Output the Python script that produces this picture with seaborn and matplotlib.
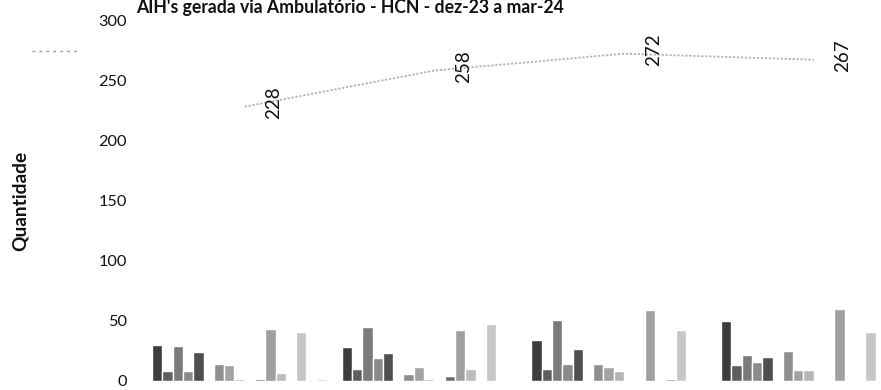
import numpy as np
import pandas as pd
import matplotlib
matplotlib.use("Agg")
import matplotlib.pyplot as plt
import seaborn as sns
from matplotlib.lines import Line2D

# ---- data -------------------------------------------------------------
meses = ["dez-23", "jan-24", "fev-24", "mar-24"]
series = [f"Esp. {i + 1:02d}" for i in range(18)]
totais = [228, 258, 272, 267]

dez_23 = [30, 8, 29, 8, 24, 0, 14, 13, 2, 0, 2, 43, 7, 0, 41, 0, 2, 0]
jan_24 = [28, 10, 45, 19, 23, 0, 6, 12, 2, 1, 4, 42, 10, 1, 47, 0, 1, 0]
fev_24 = [34, 10, 51, 14, 27, 1, 14, 12, 8, 1, 0, 59, 1, 2, 42, 0, 1, 0]
mar_24 = [50, 13, 22, 16, 20, 0, 25, 9, 9, 0, 0, 60, 1, 1, 41, 1, 8, 0]

titulo = "AIH's gerada via Ambulatório - HCN - dez-23 a mar-24"
rotulo_y = "Quantidade"

# ---- styling ----------------------------------------------------------
cores = ["#3d3d3d", "#5e5e5e", "#7a7a7a", "#8a8a8a", "#4f4f4f", "#d9d9d9",
         "#8f8f8f", "#a3a3a3", "#b5b5b5", "#c4c4c4", "#6e6e6e", "#a0a0a0",
         "#bdbdbd", "#9a9a9a", "#c6c6c6", "#d0d0d0", "#cfcfcf", "#dddddd"]

valores = {"dez-23": dez_23, "jan-24": jan_24, "fev-24": fev_24, "mar-24": mar_24}
linhas = []
for m in meses:
    for s, v in zip(series, valores[m]):
        linhas.append({"mes": m, "serie": s, "qtd": v})
df = pd.DataFrame(linhas)

sns.set_theme(style="white")
plt.rcParams["font.family"] = ["Lato", "DejaVu Sans"]

W, H = 881, 390
fig = plt.figure(figsize=(W / 100, H / 100), dpi=100)
ax_left, ax_right = 149.85, 908.6
ax_bottom, ax_top = 381.0, 20.0
ax = fig.add_axes([ax_left / W, (H - ax_bottom) / H,
                   (ax_right - ax_left) / W, (ax_bottom - ax_top) / H])

sns.barplot(data=df, x="mes", y="qtd", hue="serie", order=meses,
            hue_order=series, palette=cores, width=0.977, gap=0,
            saturation=1, legend=False, errorbar=None, ax=ax)

pos = np.arange(len(meses))
sns.lineplot(x=pos, y=totais, ax=ax, color="#b3b3b3", linewidth=1.3,
             linestyle=(0, (1.2, 1.0)))

for x, v in zip(pos, totais):
    ax.annotate(str(v), xy=(x, v), xytext=(21, 3), textcoords="offset points",
                rotation=90, ha="center", va="center", fontsize=13.5,
                color="#111111")

ax.set_xlim(-0.5, 3.5)
ax.set_ylim(0, 300)
ax.set_yticks(range(0, 301, 50))
ax.tick_params(axis="y", length=0, pad=16.6, labelsize=11.7, labelcolor="#111111")
ax.tick_params(axis="x", length=0, labelbottom=False)
ax.set_xlabel("")
ax.set_ylabel(rotulo_y, fontsize=13.8, fontweight="bold", color="#111111")
ax.yaxis.set_label_coords((29 - ax_left) / (ax_right - ax_left), 0.5)
for sp in ax.spines.values():
    sp.set_visible(False)
ax.grid(False)

fig.text(350 / W, 1 - 13 / H, titulo, ha="center", va="baseline",
         fontsize=12.7, fontweight="bold", color="#111111")

fig.legend(handles=[Line2D([], [], color="#9a9a9a", lw=1, linestyle=(0, (2, 3)))],
           labels=[""], loc="center", bbox_to_anchor=(60 / W, 1 - 52 / H),
           frameon=False, handlelength=3.2, fontsize=10)

fig.savefig("out.png", dpi=100)
